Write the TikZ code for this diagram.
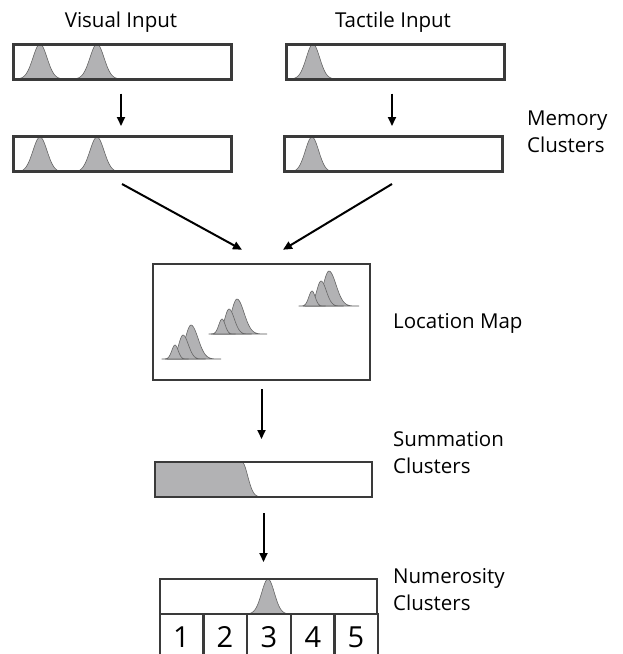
\documentclass[tikz,border=0pt]{standalone}
\usepackage{fontspec}
\setmainfont{Open Sans}
\usetikzlibrary{arrows.meta}
\definecolor{bordc}{HTML}{3A3A3A}
\definecolor{peakc}{HTML}{B2B2B4}
\definecolor{peakl}{HTML}{666666}
\tikzset{
  inbox/.style={draw=bordc, line width=3pt, minimum width=218pt, minimum height=35pt, inner sep=0pt},
  mapbox/.style={draw=bordc, line width=2.5pt, minimum width=217pt, minimum height=116pt, inner sep=0pt},
  sumbox/.style={draw=bordc, line width=2pt, minimum width=217pt, minimum height=35pt, inner sep=0pt},
  cellbox/.style={draw=bordc, line width=2pt, minimum width=44pt, minimum height=46pt, inner sep=0pt, font=\fontsize{29}{29}\selectfont},
  peak/.style={fill=peakc, draw=peakl, line width=0.6pt},
  arr/.style={line width=2pt, -{Triangle[width=8pt,length=9pt]}},
  lbl/.style={font=\fontsize{20.5}{27}\selectfont, inner sep=0pt, align=left}
}
\newcommand\gpeak[4]{\filldraw[peak] plot[domain=-2.3*#4:2.3*#4, samples=40, smooth] ({#1+\x},{#2-(#3)*exp(-(\x/#4)^2)});}
\newcommand\shump[5]{\filldraw[peak] plot[domain=-3*#4:0, samples=20, smooth] ({#1+\x},{#2-(#3)*exp(-(\x/#4)^2)}) -- plot[domain=0:3*#5, samples=25, smooth] ({#1+\x},{#2-(#3)*exp(-(\x/#5)^2)}) -- cycle;}
\newcommand\hcluster[5]{% base, x1, x2, x3, height of tallest
  \shump{#4}{#1}{#5}{8}{10}
  \shump{#3}{#1}{#5-10}{6}{7.5}
  \shump{#2}{#1}{#5-20}{4.5}{4.5}}
\begin{document}
\begin{tikzpicture}[x=1pt,y=-1pt]
\useasboundingbox (0,0) rectangle (623,654);
% peaks in input boxes
\gpeak{40}{79}{35}{10}
\gpeak{97}{79}{35}{10}
\gpeak{40}{172}{35}{10}
\gpeak{97}{172}{35}{10}
\gpeak{313}{79}{35}{9.5}
\gpeak{312}{172}{35}{9.5}
% input boxes
\node[inbox] (v1) at (122,61.5) {};
\node[inbox] (v2) at (122,154) {};
\node[inbox] (t1) at (395,61.5) {};
\node[inbox] (t2) at (393.5,154) {};
% location map
\node[mapbox] (map) at (261.5,322) {};
\hcluster{359}{175}{183}{191}{34}
\hcluster{334}{222}{229}{237}{35}
\hcluster{306}{312}{321}{329}{35}
% summation
\fill[peakc] (155,462) -- (242,462) -- plot[domain=0:22, samples=30, smooth] ({242+\x},{462+35*(1-exp(-(\x/8)^2))}) -- (155,497) -- cycle;
\draw[peakl, line width=0.6pt] plot[domain=0:22, samples=30, smooth] ({242+\x},{462+35*(1-exp(-(\x/8)^2))});
\node[sumbox] (sum) at (263.5,479.5) {};
% numerosity
\gpeak{268}{614}{35}{9}
\node[sumbox] (num) at (268.5,596.5) {};
\node[cellbox] (c1) at (181.5,637) {1};
\node[cellbox] (c2) at (225,637) {2};
\node[cellbox] (c3) at (269,637) {3};
\node[cellbox] (c4) at (313,637) {4};
\node[cellbox] (c5) at (356,637) {5};
% labels
\node[lbl, anchor=base] (lv) at (121,27) {Visual Input};
\node[lbl, anchor=base] (lt) at (393,27) {Tactile Input};
\node[lbl, anchor=base west] (lm) at (527,152) {Memory\\Clusters};
\node[lbl, anchor=base west] (ll) at (393,328) {Location Map};
\node[lbl, anchor=base west] (ls) at (393,473) {Summation\\Clusters};
\node[lbl, anchor=base west] (ln) at (393,610) {Numerosity\\Clusters};
% arrows
\draw[arr, shorten <=13pt, shorten >=9pt] ([xshift=-1pt]v1.south) -- ([xshift=-1pt]v2.north);
\draw[arr, shorten <=13pt, shorten >=9pt] ([xshift=-3pt]t1.south) -- ([xshift=-3pt]t1.south |- t2.north);
\draw[arr] ([yshift=-11pt]v2.south) -- ([xshift=-19.5pt,yshift=13pt]map.north);
\draw[arr] ([xshift=-1.5pt,yshift=-11pt]t2.south) -- ([xshift=21.5pt,yshift=13pt]map.north);
\draw[arr, shorten <=8pt, shorten >=22pt] (map.south) -- (map.south |- sum.north);
\draw[arr, shorten <=15pt, shorten >=16pt] (sum.south) -- (sum.south |- num.north);
\end{tikzpicture}
\end{document}
